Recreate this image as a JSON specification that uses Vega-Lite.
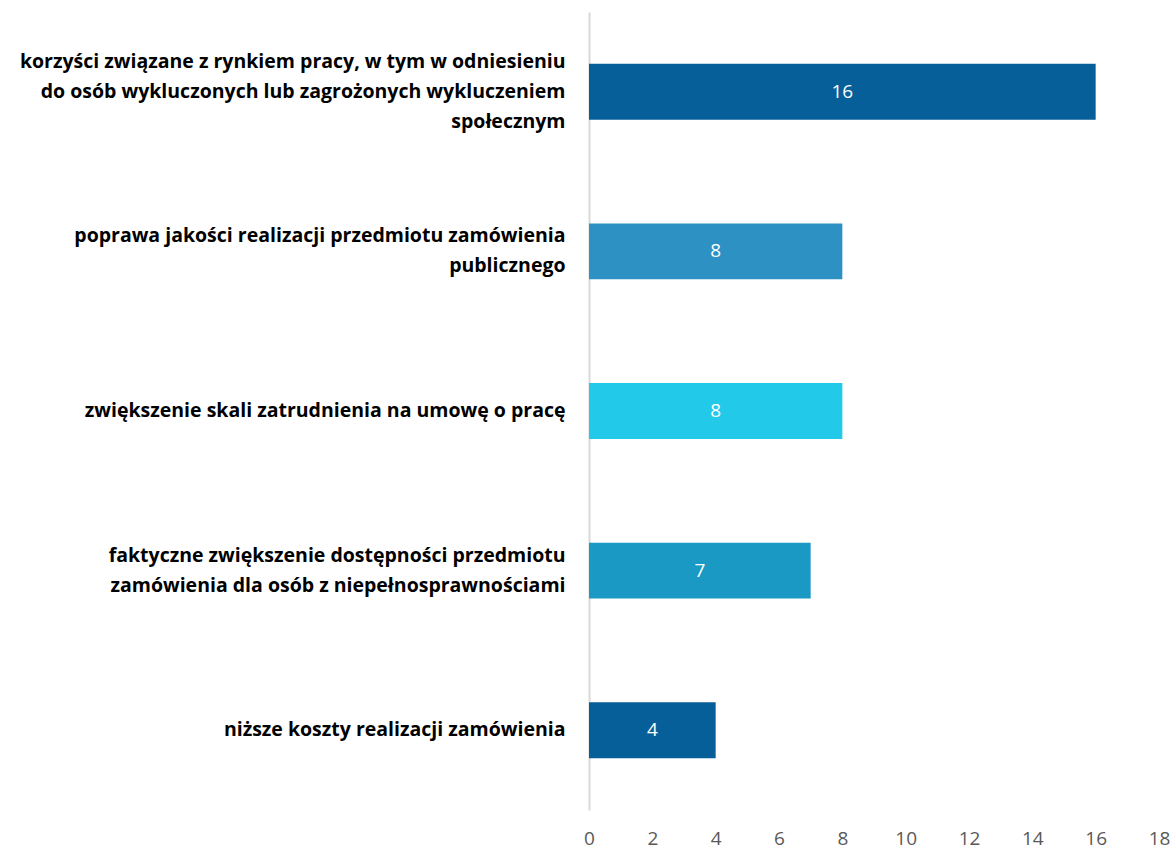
{
  "$schema": "https://vega.github.io/schema/vega-lite/v6.json",
  "width": 570,
  "height": 798,
  "autosize": "none",
  "padding": {"left": 589, "top": 12, "right": 14, "bottom": 40},
  "background": "white",
  "data": {
    "values": [
      {"kategoria": "korzyści związane z rynkiem pracy, w tym w odniesieniu|do osób wykluczonych lub zagrożonych wykluczeniem|społecznym", "liczba": 16},
      {"kategoria": "poprawa jakości realizacji przedmiotu zamówienia|publicznego", "liczba": 8},
      {"kategoria": "zwiększenie skali zatrudnienia na umowę o pracę", "liczba": 8},
      {"kategoria": "faktyczne zwiększenie dostępności przedmiotu|zamówienia dla osób z niepełnosprawnościami", "liczba": 7},
      {"kategoria": "niższe koszty realizacji zamówienia", "liczba": 4}
    ]
  },
  "encoding": {
    "y": {
      "field": "kategoria",
      "type": "nominal",
      "sort": null,
      "scale": {"paddingInner": 0.65, "paddingOuter": 0.325},
      "axis": {
        "title": null,
        "labelExpr": "split(datum.label, '|')",
        "labelFont": "Open Sans",
        "labelFontWeight": "bold",
        "labelFontSize": 19.5,
        "labelColor": "#000000",
        "labelLineHeight": 30,
        "labelLimit": 700,
        "labelPadding": 24,
        "labelOffset": {
          "condition": [
            {"test": "length(split(datum.value, '|')) == 3", "value": -30},
            {"test": "length(split(datum.value, '|')) == 2", "value": -15}
          ],
          "value": 0
        },
        "ticks": false,
        "domainColor": "#d9d9d9",
        "domainWidth": 2
      }
    }
  },
  "layer": [
    {
      "mark": {"type": "bar"},
      "encoding": {
        "x": {
          "field": "liczba",
          "type": "quantitative",
          "scale": {"domain": [0, 18], "nice": false},
          "axis": {
            "title": null,
            "values": [0, 2, 4, 6, 8, 10, 12, 14, 16, 18],
            "grid": false,
            "domain": false,
            "ticks": false,
            "labelFont": "Open Sans",
            "labelFontSize": 19,
            "labelColor": "#595959",
            "labelPadding": 19,
            "labelFlush": false
          }
        },
        "color": {
          "field": "kategoria",
          "type": "nominal",
          "sort": null,
          "legend": null,
          "scale": {
            "range": ["#075f99", "#2d91c4", "#22c9e8", "#1a99c4", "#075f99"]
          }
        }
      }
    },
    {
      "transform": [{"calculate": "datum.liczba / 2", "as": "srodek"}],
      "mark": {"type": "text", "color": "white", "font": "Open Sans", "fontSize": 19, "baseline": "middle", "align": "center"},
      "encoding": {
        "x": {"field": "srodek", "type": "quantitative"},
        "text": {"field": "liczba", "type": "quantitative"}
      }
    }
  ],
  "config": {"view": {"stroke": null}}
}
